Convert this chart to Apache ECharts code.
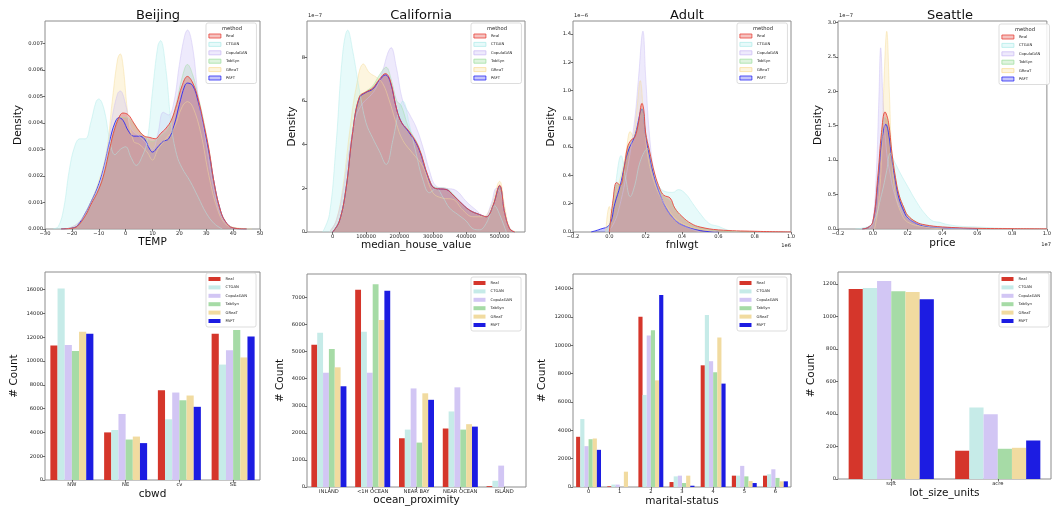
<!DOCTYPE html>
<html>
<head>
<meta charset="utf-8">
<script src="https://cdn.jsdelivr.net/npm/echarts@6/dist/echarts.min.js"></script>
<style>
html, body { margin: 0; padding: 0; background: #fff; }
#chart { width: 1054px; height: 512px; }
</style>
</head>
<body>
<div id="chart"></div>
<script>
var FONT = 'DejaVu Sans';
var methods = ['Real', 'CTGAN', 'CopulaGAN', 'TabSyn', 'GReaT', 'PAFT'];
// seaborn draws kde layers in reverse hue order, so Real ends on top
var kdeOrder = ['PAFT', 'GReaT', 'TabSyn', 'CopulaGAN', 'CTGAN', 'Real'];

// ---- Beijing: TEMP density ----
var bjReal = [[-24,0],[-20,0.00003],[-18,0.0001],[-15,0.0005],[-13,0.0009],[-10,0.0015],[-8,0.0021],[-6,0.003],[-4,0.0038],[-2,0.0043],[-1,0.00437],[1,0.0043],[3,0.004],[5,0.0037],[7,0.0035],[9,0.00345],[11,0.0034],[13,0.0036],[15,0.0038],[17,0.0041],[19,0.0047],[21,0.0054],[23,0.00575],[25,0.0055],[27,0.0049],[29,0.004],[31,0.003],[33,0.0017],[35,0.0008],[37,0.0003],[40,0.00004],[45,0]];
var bjCtgan = [[-27,0],[-25,0.0001],[-23,0.0008],[-21,0.0022],[-19,0.0031],[-17,0.0034],[-15,0.0034],[-13,0.004],[-11,0.0048],[-10,0.0049],[-8,0.0045],[-6,0.0034],[-4,0.0028],[-2,0.003],[0,0.0031],[2,0.0027],[4,0.0024],[6,0.0027],[8,0.0033],[10,0.0052],[12,0.0069],[13,0.0071],[15,0.006],[17,0.0039],[19,0.0028],[21,0.0023],[24,0.0018],[27,0.0012],[30,0.0006],[33,0.0002],[36,0]];
var bjCopula = [[-22,0],[-18,0.0002],[-14,0.0007],[-10,0.0016],[-7,0.0028],[-5,0.0042],[-3,0.0051],[-2,0.0052],[0,0.0047],[2,0.0038],[5,0.0035],[8,0.0032],[10,0.003],[12,0.0036],[14,0.0044],[16,0.0043],[18,0.0048],[20,0.0062],[22,0.0073],[23,0.0075],[25,0.0068],[27,0.005],[30,0.0032],[33,0.0014],[36,0.0004],[40,0]];
var bjTabsyn = [[-24,0],[-20,0.00003],[-18,0.0001],[-15,0.0005],[-13,0.0009],[-10,0.0015],[-8,0.0021],[-6,0.003],[-4,0.0038],[-2,0.0042],[0,0.0042],[2,0.0041],[5,0.0037],[8,0.0034],[10,0.0033],[13,0.0035],[16,0.0038],[19,0.0048],[21,0.0057],[23,0.0062],[25,0.0058],[27,0.005],[29,0.0041],[31,0.003],[33,0.0017],[35,0.0008],[37,0.0003],[40,0.00004],[45,0]];
var bjGreat = [[-22,0],[-18,0.0002],[-14,0.0008],[-10,0.0018],[-7,0.003],[-5,0.0048],[-3,0.0064],[-2,0.0066],[-1,0.0062],[1,0.0042],[3,0.0033],[5,0.0032],[8,0.0029],[10,0.0026],[12,0.003],[15,0.0034],[18,0.0038],[21,0.0046],[23,0.0048],[25,0.0046],[28,0.0036],[31,0.002],[34,0.0008],[37,0.0002],[41,0.00005],[47,0]];
var bjPaft = [[-24,0],[-20,0.00004],[-18,0.00012],[-15,0.0006],[-13,0.001],[-10,0.0017],[-8,0.0024],[-6,0.0033],[-4,0.004],[-2.5,0.0042],[-1,0.0041],[1,0.0037],[3,0.0035],[5,0.0035],[7,0.0034],[9,0.003],[10,0.0029],[12,0.0031],[14,0.0033],[16,0.0034],[18,0.0039],[20,0.0047],[22,0.0054],[23,0.0055],[25,0.0054],[27,0.0048],[29,0.0039],[31,0.0029],[33,0.0017],[35,0.0008],[37,0.0003],[40,0.00004],[45,0]];

// ---- California: median_house_value density (y in 1e-7) ----
var caReal = [[0,0],[20000,0.5],[40000,2.0],[60000,4.6],[80000,6.2],[100000,6.42],[120000,6.6],[140000,7.0],[158000,7.26],[172000,6.96],[192000,5.6],[207000,5.0],[227000,4.65],[257000,3.9],[287000,2.5],[307000,2.0],[340000,1.95],[360000,1.7],[380000,1.4],[410000,1.0],[440000,0.8],[460000,0.7],[480000,1.2],[500000,2.14],[515000,0.9],[530000,0.15],[545000,0]];
var caCtgan = [[-30000,0],[-10000,0.8],[10000,4.0],[30000,8.2],[45000,9.25],[60000,8.3],[80000,6.5],[100000,5.0],[120000,4.3],[140000,3.7],[160000,3.1],[180000,4.2],[200000,5.7],[210000,6.0],[230000,4.9],[250000,3.6],[270000,2.4],[290000,1.8],[310000,2.0],[330000,1.6],[350000,1.1],[375000,0.8],[400000,0.5],[420000,0.15],[440000,0.1],[460000,0.4],[485000,1.2],[500000,0.8],[520000,0]];
var caCopula = [[-10000,0],[10000,0.5],[30000,1.8],[50000,3.8],[70000,5.3],[90000,5.9],[110000,6.2],[130000,6.6],[150000,7.4],[165000,8.2],[175000,8.45],[190000,7.6],[210000,6.0],[230000,5.4],[250000,4.8],[270000,3.9],[290000,2.8],[310000,2.1],[340000,2.0],[370000,1.9],[400000,1.4],[430000,1.0],[455000,0.7],[475000,1.3],[490000,2.0],[505000,1.7],[525000,0.3],[545000,0]];
var caTabsyn = [[0,0],[20000,0.5],[40000,2.0],[60000,4.6],[80000,6.2],[100000,6.45],[120000,6.7],[140000,7.2],[160000,7.55],[175000,7.0],[192000,6.0],[205000,5.8],[227000,4.8],[257000,3.95],[287000,2.5],[307000,2.05],[340000,2.0],[360000,1.75],[380000,1.4],[410000,1.0],[440000,0.8],[460000,0.7],[480000,1.2],[500000,2.1],[515000,0.9],[530000,0.15],[545000,0]];
var caGreat = [[-10000,0],[10000,0.5],[30000,2.0],[50000,4.5],[70000,6.6],[92000,7.7],[110000,7.3],[130000,7.1],[150000,6.8],[170000,6.0],[190000,5.0],[210000,4.2],[240000,3.6],[270000,3.0],[300000,1.8],[330000,1.55],[360000,1.5],[390000,1.0],[420000,0.7],[450000,0.7],[475000,1.2],[500000,2.32],[515000,1.2],[530000,0.2],[550000,0]];
var caPaft = [[0,0],[20000,0.5],[40000,2.0],[60000,4.6],[80000,6.15],[100000,6.4],[120000,6.55],[140000,6.95],[158000,7.2],[172000,6.9],[192000,5.6],[207000,5.0],[227000,4.6],[257000,3.85],[287000,2.45],[307000,2.0],[340000,1.95],[360000,1.7],[380000,1.4],[410000,1.0],[440000,0.8],[460000,0.7],[480000,1.2],[500000,2.1],[515000,0.9],[530000,0.15],[545000,0]];

// ---- Adult: fnlwgt density (x in 1e6, y in 1e-6) ----
var adReal = [[0,0],[0.02,0.22],[0.04,0.35],[0.06,0.33],[0.08,0.44],[0.1,0.6],[0.12,0.65],[0.14,0.67],[0.16,0.77],[0.18,0.91],[0.19,0.86],[0.2,0.7],[0.22,0.58],[0.25,0.41],[0.28,0.3],[0.3,0.26],[0.335,0.24],[0.36,0.17],[0.4,0.11],[0.45,0.06],[0.5,0.035],[0.6,0.015],[0.8,0.005],[1.0,0]];
var adCtgan = [[-0.02,0],[0,0.05],[0.03,0.3],[0.065,0.54],[0.09,0.38],[0.115,0.25],[0.14,0.33],[0.17,0.5],[0.21,0.59],[0.24,0.45],[0.27,0.33],[0.3,0.29],[0.35,0.28],[0.38,0.3],[0.42,0.27],[0.46,0.2],[0.5,0.13],[0.55,0.06],[0.6,0.04],[0.65,0.015],[0.72,0]];
var adCopula = [[-0.01,0],[0.02,0.05],[0.05,0.15],[0.1,0.45],[0.14,0.8],[0.16,1.08],[0.185,1.42],[0.2,1.1],[0.22,0.7],[0.25,0.4],[0.3,0.2],[0.35,0.1],[0.4,0.05],[0.5,0]];
var adTabsyn = [[0,0],[0.02,0.2],[0.04,0.33],[0.06,0.33],[0.08,0.43],[0.1,0.58],[0.12,0.64],[0.14,0.68],[0.16,0.77],[0.18,0.87],[0.2,0.7],[0.22,0.57],[0.25,0.4],[0.28,0.29],[0.3,0.25],[0.335,0.22],[0.36,0.16],[0.4,0.1],[0.45,0.05],[0.5,0.03],[0.6,0.01],[0.8,0]];
var adGreat = [[-0.02,0],[0,0.18],[0.01,0.15],[0.03,0.25],[0.06,0.38],[0.09,0.55],[0.115,0.71],[0.13,0.68],[0.15,0.85],[0.17,1.07],[0.19,0.8],[0.21,0.55],[0.24,0.38],[0.28,0.25],[0.32,0.17],[0.36,0.1],[0.42,0.05],[0.5,0.02],[0.6,0]];
var adPaft = [[-0.1,0],[-0.05,0.02],[0,0.05],[0.03,0.2],[0.06,0.33],[0.1,0.56],[0.14,0.68],[0.18,0.87],[0.2,0.68],[0.22,0.55],[0.25,0.38],[0.3,0.2],[0.35,0.1],[0.4,0.05],[0.5,0.01],[0.6,0]];

// ---- Seattle: price density (x in 1e7, y in 1e-7) ----
var seReal = [[-0.06,0],[-0.03,0.02],[0,0.1],[0.03,0.8],[0.05,1.4],[0.07,1.7],[0.09,1.55],[0.11,1.1],[0.13,0.75],[0.15,0.5],[0.18,0.3],[0.2,0.2],[0.25,0.1],[0.3,0.06],[0.4,0.03],[0.6,0.01],[0.8,0.005],[1.0,0.002]];
var seCtgan = [[-0.1,0],[-0.05,0.02],[0,0.08],[0.05,0.5],[0.08,0.85],[0.1,1.1],[0.13,0.95],[0.16,0.8],[0.2,0.62],[0.25,0.4],[0.3,0.22],[0.35,0.11],[0.38,0.1],[0.42,0.07],[0.5,0.04],[0.6,0.03],[0.7,0.015],[0.8,0.005],[1.0,0]];
var seCopula = [[-0.02,0],[0,0.1],[0.02,0.8],[0.035,1.9],[0.045,2.63],[0.06,1.8],[0.08,1.1],[0.1,0.8],[0.12,0.55],[0.15,0.35],[0.2,0.15],[0.3,0.05],[0.4,0.02],[0.6,0]];
var seTabsyn = [[-0.06,0],[-0.03,0.02],[0,0.1],[0.03,0.75],[0.05,1.35],[0.07,1.62],[0.09,1.5],[0.11,1.1],[0.13,0.75],[0.15,0.5],[0.18,0.3],[0.2,0.2],[0.25,0.1],[0.3,0.05],[0.4,0.02],[0.6,0]];
var seGreat = [[0.01,0],[0.03,0.3],[0.05,1.0],[0.065,2.2],[0.08,2.87],[0.095,2.0],[0.11,1.0],[0.13,0.5],[0.16,0.25],[0.2,0.1],[0.3,0.03],[0.4,0]];
var sePaft = [[-0.06,0],[-0.03,0.02],[0,0.1],[0.03,0.7],[0.05,1.25],[0.075,1.52],[0.09,1.4],[0.11,1.0],[0.13,0.7],[0.15,0.45],[0.18,0.25],[0.2,0.16],[0.25,0.08],[0.3,0.04],[0.4,0.02],[0.6,0]];

// ---- bar counts ----
var cbwdCats = ['NW', 'NE', 'cv', 'SE'];
var cbwdReal = [11300, 4000, 7550, 12300];
var cbwdCtgan = [16100, 4200, 5100, 9700];
var cbwdCopula = [11350, 5550, 7350, 10900];
var cbwdTabsyn = [10850, 3400, 6700, 12600];
var cbwdGreat = [12450, 3650, 7100, 10300];
var cbwdPaft = [12300, 3100, 6150, 12050];

var oceanCats = ['INLAND', '<1H OCEAN', 'NEAR BAY', 'NEAR OCEAN', 'ISLAND'];
var oceanReal = [5250, 7280, 1800, 2160, 30];
var oceanCtgan = [5700, 5730, 2120, 2790, 230];
var oceanCopula = [4220, 4220, 3640, 3680, 790];
var oceanTabsyn = [5100, 7490, 1640, 2120, 0];
var oceanGreat = [4420, 6170, 3460, 2320, 0];
var oceanPaft = [3720, 7250, 3220, 2230, 0];

var maritalCats = ['0', '1', '2', '3', '4', '5', '6'];
var maritalReal = [3540, 50, 12000, 350, 8580, 800, 800];
var maritalCtgan = [4790, 170, 6490, 750, 12120, 800, 900];
var maritalCopula = [2880, 170, 10680, 800, 8870, 1490, 1250];
var maritalTabsyn = [3370, 0, 11060, 280, 8090, 750, 640];
var maritalGreat = [3420, 1080, 7520, 800, 10540, 420, 400];
var maritalPaft = [2620, 0, 13540, 90, 7290, 280, 400];

var lotCats = ['sqft', 'acre'];
var lotReal = [1170, 174];
var lotCtgan = [1176, 440];
var lotCopula = [1219, 399];
var lotTabsyn = [1155, 186];
var lotGreat = [1151, 192];
var lotPaft = [1106, 237];

// ---- tick values ----
var bjTempTicks = [-30, -20, -10, 0, 10, 20, 30, 40, 50];
var bjDensTicks = [0, 0.001, 0.002, 0.003, 0.004, 0.005, 0.006, 0.007];
var caValTicks = [0, 100000, 200000, 300000, 400000, 500000];
var caDensTicks = [0, 2, 4, 6, 8];
var fracTicks = [-0.2, 0, 0.2, 0.4, 0.6, 0.8, 1.0];
var adDensTicks = [0, 0.2, 0.4, 0.6, 0.8, 1.0, 1.2, 1.4];
var seDensTicks = [0, 0.5, 1.0, 1.5, 2.0, 2.5, 3.0];
var cbwdTicks = [0, 2000, 4000, 6000, 8000, 10000, 12000, 14000, 16000];
var oceanTicks = [0, 1000, 2000, 3000, 4000, 5000, 6000, 7000];
var maritalTicks = [0, 2000, 4000, 6000, 8000, 10000, 12000, 14000];
var lotTicks = [0, 200, 400, 600, 800, 1000, 1200];

var barColor = { Real: '#d5362b', CTGAN: '#c6ebe8', CopulaGAN: '#d2c6f4', TabSyn: '#a6dba6', GReaT: '#f1dba0', PAFT: '#1c1ce2' };
var kdeLine = { Real: '#e8453c', CTGAN: '#b4ecea', CopulaGAN: '#cdbff5', TabSyn: '#a3e0a3', GReaT: '#f7dd9a', PAFT: '#2a2af5' };
var kdeFill = { Real: 'rgba(225,72,64,0.33)', CTGAN: 'rgba(175,238,238,0.3)', CopulaGAN: 'rgba(200,185,245,0.3)', TabSyn: 'rgba(150,220,150,0.3)', GReaT: 'rgba(248,222,150,0.3)', PAFT: 'rgba(40,40,235,0.27)' };

var kdePanels = [
  { data: { Real: bjReal, CTGAN: bjCtgan, CopulaGAN: bjCopula, TabSyn: bjTabsyn, GReaT: bjGreat, PAFT: bjPaft } },
  { data: { Real: caReal, CTGAN: caCtgan, CopulaGAN: caCopula, TabSyn: caTabsyn, GReaT: caGreat, PAFT: caPaft } },
  { data: { Real: adReal, CTGAN: adCtgan, CopulaGAN: adCopula, TabSyn: adTabsyn, GReaT: adGreat, PAFT: adPaft } },
  { data: { Real: seReal, CTGAN: seCtgan, CopulaGAN: seCopula, TabSyn: seTabsyn, GReaT: seGreat, PAFT: sePaft } }
];
var barPanels = [
  { cats: cbwdCats, data: { Real: cbwdReal, CTGAN: cbwdCtgan, CopulaGAN: cbwdCopula, TabSyn: cbwdTabsyn, GReaT: cbwdGreat, PAFT: cbwdPaft } },
  { cats: oceanCats, data: { Real: oceanReal, CTGAN: oceanCtgan, CopulaGAN: oceanCopula, TabSyn: oceanTabsyn, GReaT: oceanGreat, PAFT: oceanPaft } },
  { cats: maritalCats, data: { Real: maritalReal, CTGAN: maritalCtgan, CopulaGAN: maritalCopula, TabSyn: maritalTabsyn, GReaT: maritalGreat, PAFT: maritalPaft } },
  { cats: lotCats, data: { Real: lotReal, CTGAN: lotCtgan, CopulaGAN: lotCopula, TabSyn: lotTabsyn, GReaT: lotGreat, PAFT: lotPaft } }
];

function minus(s) { return String(s).replace('-', '\u2212'); }

var grids = [
  { left: 45, top: 21, width: 215, height: 208 },
  { left: 307, top: 21, width: 218, height: 211 },
  { left: 573, top: 21, width: 218, height: 211 },
  { left: 838, top: 21, width: 213, height: 208 },
  { left: 45, top: 272, width: 215, height: 208 },
  { left: 307, top: 274, width: 219, height: 213 },
  { left: 573, top: 274, width: 218, height: 213 },
  { left: 838, top: 272, width: 213, height: 207 }
].map(function (g) {
  return Object.assign({ show: true, borderColor: '#8c8c8c', borderWidth: 1, backgroundColor: 'transparent' }, g);
});

var tickLabel = { fontSize: 5.2, color: '#222', fontFamily: FONT, margin: 2 };
var nameStyle = { fontSize: 10.5, color: '#111', fontFamily: FONT };

function valueAxis(idx, min, max, ticks, fmt, name, gap) {
  return {
    type: 'value', gridIndex: idx, min: min, max: max,
    name: name, nameLocation: 'middle', nameGap: gap, nameTextStyle: nameStyle,
    axisLine: { show: false, onZero: false },
    axisTick: { show: true, length: 2.5, lineStyle: { color: '#333', width: 0.7 }, customValues: ticks },
    axisLabel: Object.assign({ customValues: ticks, formatter: fmt }, tickLabel),
    splitLine: { show: false }
  };
}

var xAxes = [
  valueAxis(0, -30, 50, bjTempTicks, function (v) { return minus(v); }, 'TEMP', 8),
  valueAxis(1, -77000, 576000, caValTicks, function (v) { return String(v); }, 'median_house_value', 7),
  valueAxis(2, -0.2, 1.0, fracTicks, function (v) { return minus(v.toFixed(1)); }, 'fnlwgt', 7),
  valueAxis(3, -0.2, 1.0, fracTicks, function (v) { return minus(v.toFixed(1)); }, 'price', 9)
];
var yAxes = [
  valueAxis(0, 0, 0.00784, bjDensTicks, function (v) { return v.toFixed(3); }, 'Density', 21.5),
  valueAxis(1, 0, 9.67, caDensTicks, function (v) { return String(v); }, 'Density', 8.5),
  valueAxis(2, 0, 1.492, adDensTicks, function (v) { return v.toFixed(1); }, 'Density', 16),
  valueAxis(3, 0, 3.02, seDensTicks, function (v) { return v.toFixed(1); }, 'Density', 14.5)
];

var barNames = ['cbwd', 'ocean_proximity', 'marital-status', 'lot_size_units'];
var barXGap = [9, 8, 9, 9];
var barYMax = [17480, 7866, 15018, 1274];
var barYTicks = [cbwdTicks, oceanTicks, maritalTicks, lotTicks];
var barYGap = [25.5, 21.5, 25, 21];

barPanels.forEach(function (p, k) {
  xAxes.push({
    type: 'category', gridIndex: 4 + k, data: p.cats,
    name: barNames[k], nameLocation: 'middle', nameGap: barXGap[k], nameTextStyle: nameStyle,
    axisLine: { show: false, onZero: false },
    axisTick: { show: true, alignWithLabel: true, length: 2.5, lineStyle: { color: '#333', width: 0.7 } },
    axisLabel: Object.assign({ interval: 0 }, tickLabel),
    splitLine: { show: false }
  });
  yAxes.push(valueAxis(4 + k, 0, barYMax[k], barYTicks[k], function (v) { return String(v); }, '# Count', barYGap[k]));
});

var series = [];
kdePanels.forEach(function (p, k) {
  kdeOrder.forEach(function (m) {
    var strong = (m === 'Real' || m === 'PAFT');
    series.push({
      type: 'line', name: m, xAxisIndex: k, yAxisIndex: k,
      data: p.data[m], smooth: 0.4, symbol: 'none', showSymbol: false,
      lineStyle: { color: kdeLine[m], width: strong ? 1.0 : 0.8, opacity: strong ? 0.9 : 0.6 },
      itemStyle: { color: kdeLine[m] },
      areaStyle: { color: kdeFill[m], opacity: 1 },
      silent: true
    });
  });
});
barPanels.forEach(function (p, k) {
  methods.forEach(function (m) {
    series.push({
      type: 'bar', name: m, xAxisIndex: 4 + k, yAxisIndex: 4 + k,
      data: p.data[m], barGap: '0%', barCategoryGap: '20%',
      itemStyle: { color: barColor[m] }, silent: true
    });
  });
});

function legendFor(left, top, kde) {
  return {
    orient: 'vertical', left: left, top: top, selectedMode: false,
    itemWidth: 12, itemHeight: 4, itemGap: 3.4,
    padding: kde ? [10.5, 9, 3, 2.5] : [3.5, 9, 3.5, 2.5],
    backgroundColor: 'rgba(255,255,255,0.85)', borderColor: '#d4d4d4', borderWidth: 0.8, borderRadius: 2,
    textStyle: { fontSize: 3.8, lineHeight: 5, color: '#222', fontFamily: FONT },
    data: methods.map(function (m) {
      return {
        name: m, icon: 'rect',
        itemStyle: kde
          ? { color: kdeFill[m], borderColor: kdeLine[m], borderWidth: 0.8, opacity: 1 }
          : { color: barColor[m], borderWidth: 0, opacity: 1 }
      };
    })
  };
}

var legends = [
  legendFor(206, 23, true), legendFor(471, 23, true), legendFor(737, 23, true), legendFor(999, 24, true),
  legendFor(206, 273, false), legendFor(471, 277, false), legendFor(737, 277, false), legendFor(999, 273, false)
];

var titles = ['Beijing', 'California', 'Adult', 'Seattle'].map(function (t, k) {
  var centers = [153, 416, 682, 945];
  return { text: t, left: centers[k], top: 4, textAlign: 'center', textStyle: { fontSize: 13, fontWeight: 'normal', color: '#111', fontFamily: FONT } };
});

function smallText(x, y, s, align) {
  return { type: 'text', x: x, y: y, style: { text: s, fontSize: 5.2, fill: '#222', fontFamily: FONT, align: align || 'left', verticalAlign: 'middle' }, z: 100 };
}

var graphics = [
  smallText(232, 28.5, 'method', 'center'), smallText(497, 28.5, 'method', 'center'),
  smallText(763, 28.5, 'method', 'center'), smallText(1025, 29.5, 'method', 'center'),
  smallText(308, 15.5, '1e\u22127'), smallText(574, 15.5, '1e\u22126'), smallText(839, 15.5, '1e\u22127'),
  smallText(791, 245.5, '1e6', 'right'), smallText(1051, 245, '1e7', 'right')
];

var chart = echarts.init(document.getElementById('chart'), null, { renderer: 'canvas' });
chart.setOption({
  animation: false,
  backgroundColor: '#fff',
  title: titles,
  legend: legends,
  grid: grids,
  xAxis: xAxes,
  yAxis: yAxes,
  series: series,
  graphic: graphics
});
</script>
</body>
</html>
